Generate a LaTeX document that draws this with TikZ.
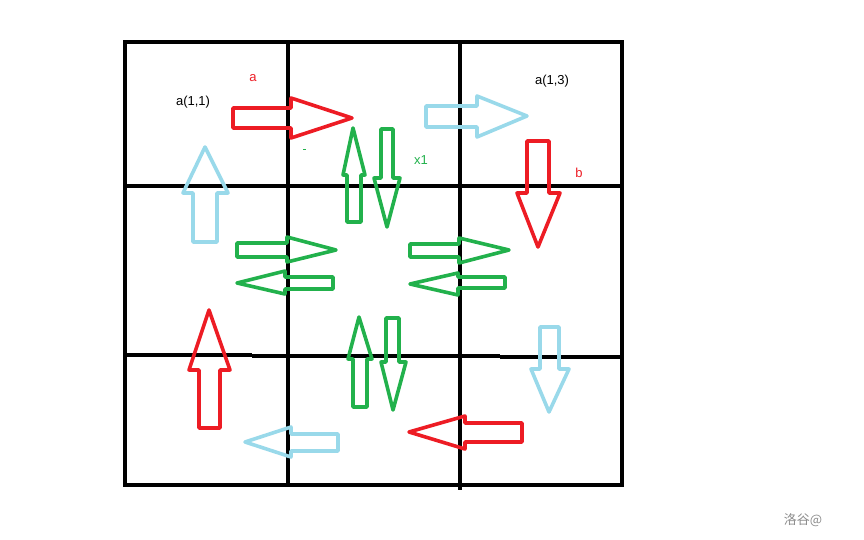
\documentclass[tikz,border=0pt]{standalone}
\usepackage{fontspec}
\setmainfont{Liberation Sans}
\newfontfamily\cjkfont{Noto Sans CJK SC}
\definecolor{pred}{HTML}{ED1C24}
\definecolor{pgreen}{HTML}{22B14C}
\definecolor{pblue}{HTML}{99D9EA}
\begin{document}
\begin{tikzpicture}[x=1pt,y=-1pt,
  gridline/.style={line width=4pt,black,line cap=rect},
  redarr/.style={draw=pred,line width=3.6pt,line join=round},
  greenarr/.style={draw=pgreen,line width=3.6pt,line join=round},
  bluearr/.style={draw=pblue,line width=3.6pt,line join=round},
  lbl/.style={font=\fontsize{13}{15}\selectfont,inner sep=0pt}]
\useasboundingbox (0,0) rectangle (864,540);
% grid
\draw[gridline] (125,42) rectangle (622,485);
\draw[gridline] (288,42) -- (288,485);
\draw[gridline] (460,42) -- (460,488);
\draw[gridline] (125,186) -- (622,186);
\draw[line width=4pt] (125,355) -- (252,355);
\draw[line width=4pt] (252,356) -- (500,356);
\draw[line width=4pt] (500,357) -- (622,357);
% red arrows
\draw[redarr] (233,108) -- (291,108) -- (291,98) -- (352,118) -- (291,138) -- (291,128) -- (233,128) -- cycle;
\draw[redarr] (527,141) -- (549,141) -- (549,193) -- (560,193) -- (538,247) -- (517,193) -- (527,193) -- cycle;
\draw[redarr] (209,310) -- (230,370) -- (220,370) -- (220,428) -- (199,428) -- (199,370) -- (189,370) -- cycle;
\draw[redarr] (409,432) -- (465,416) -- (465,423) -- (522,423) -- (522,442) -- (465,442) -- (465,449) -- cycle;
% blue arrows
\draw[bluearr] (426,106) -- (477,106) -- (477,96) -- (527,116) -- (477,137) -- (477,127) -- (426,127) -- cycle;
\draw[bluearr] (205,147) -- (228,193) -- (217,193) -- (217,242) -- (193,242) -- (193,193) -- (183,193) -- cycle;
\draw[bluearr] (245,442) -- (291,427) -- (291,434) -- (338,434) -- (338,451) -- (291,451) -- (291,457) -- cycle;
\draw[bluearr] (540,327) -- (559,327) -- (559,369) -- (569,369) -- (549,412) -- (531,369) -- (540,369) -- cycle;
% green arrows
\draw[greenarr] (353,128) -- (365,175) -- (361,175) -- (361,222) -- (347,222) -- (347,175) -- (343,175) -- cycle;
\draw[greenarr] (381,129) -- (393,129) -- (393,178) -- (400,178) -- (387,227) -- (374,178) -- (381,178) -- cycle;
\draw[greenarr] (237,243) -- (287,243) -- (287,237) -- (336,250) -- (287,262) -- (287,257) -- (237,257) -- cycle;
\draw[greenarr] (237,283) -- (285,271) -- (285,277) -- (333,277) -- (333,289) -- (285,289) -- (285,294) -- cycle;
\draw[greenarr] (410,244) -- (459,244) -- (459,238) -- (509,250) -- (459,263) -- (459,257) -- (410,257) -- cycle;
\draw[greenarr] (410,284) -- (458,273) -- (458,277) -- (505,277) -- (505,288) -- (458,288) -- (458,295) -- cycle;
\draw[greenarr] (359,317) -- (372,359) -- (367,359) -- (367,407) -- (353,407) -- (353,359) -- (348,359) -- cycle;
\draw[greenarr] (386,318) -- (399,318) -- (399,362) -- (406,362) -- (393,410) -- (381,362) -- (386,362) -- cycle;
\draw[draw=pgreen,line width=1pt] (303,150) -- (306,150);
% labels
\node[lbl,text=pred] (la) at (253,78) {a};
\node[lbl] (l11) at (193,102) {a(1,1)};
\node[lbl] (l13) at (552,81) {a(1,3)};
\node[lbl,text=pgreen] (lx) at (421,160) {x1};
\node[lbl,text=pred] (lb) at (579,173) {b};
\node[inner sep=0pt,text=black!45,font=\cjkfont\fontsize{13}{15}\selectfont] (wm) at (803,520) {洛谷@};
\end{tikzpicture}
\end{document}
